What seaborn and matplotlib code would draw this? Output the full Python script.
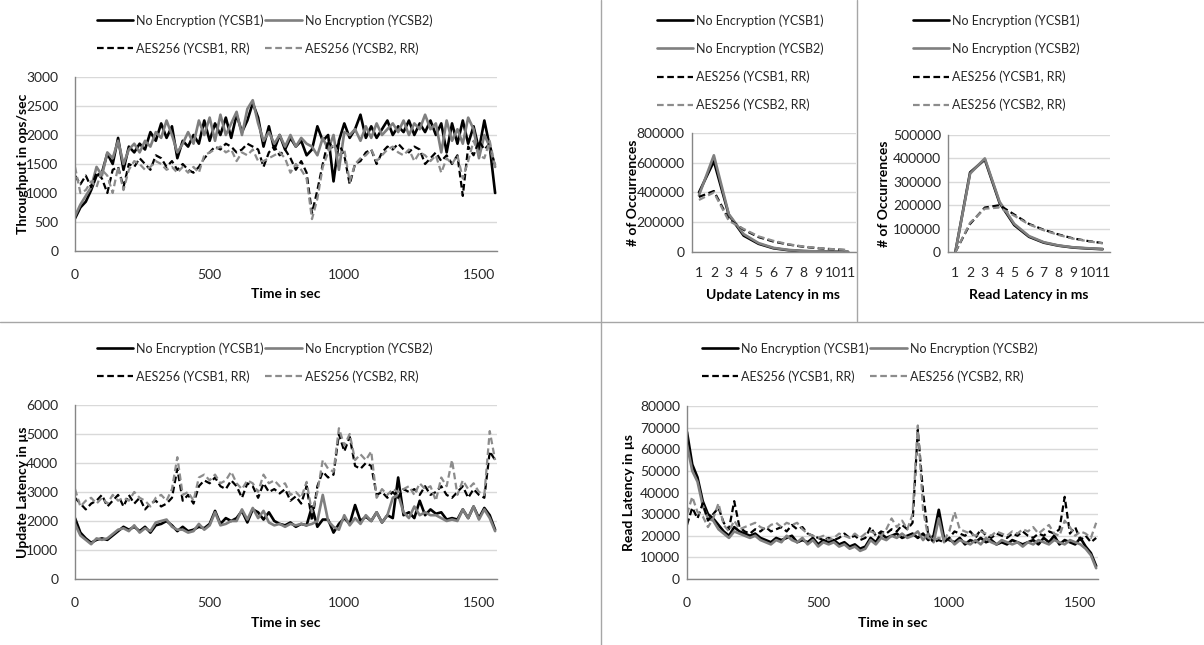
import matplotlib
matplotlib.use("Agg")
import matplotlib.pyplot as plt
import seaborn as sns
from matplotlib.lines import Line2D
from matplotlib.ticker import MultipleLocator, FixedLocator, FuncFormatter

sns.set_theme(style="white")
plt.rcParams['font.family'] = ['Lato', 'DejaVu Sans']

# ---------------- data ----------------
time = list(range(0, 1561, 20))

labels = ["No Encryption (YCSB1)", "No Encryption (YCSB2)",
          "AES256 (YCSB1, RR)", "AES256 (YCSB2, RR)"]

# throughput in ops/sec
tp_ne1 = [560, 750, 850, 1050, 1300, 1350, 1680, 1500, 1950, 1400,
          1800, 1700, 1850, 1750, 2050, 1900, 2200, 1950, 2150, 1600,
          1900, 1800, 2000, 1850, 2250, 1900, 2200, 2000, 2300, 1950,
          2350, 2050, 2250, 2550, 2300, 1800, 2150, 1750, 2000, 1750,
          1950, 1800, 1900, 1650, 1750, 2150, 1900, 2000, 1200, 1900,
          2200, 1950, 2100, 2350, 1950, 2150, 1950, 2100, 2250, 2000,
          2150, 2050, 2250, 2000, 2200, 2050, 2250, 2000, 2200, 1700,
          2200, 1850, 2250, 1850, 2150, 1750, 2250, 1800, 1000]
tp_ne2 = [600, 800, 950, 1100, 1450, 1300, 1700, 1600, 1900, 1500,
          1750, 1850, 1700, 1900, 1800, 2050, 1950, 2250, 2000, 1700,
          1850, 2050, 1850, 2250, 2000, 2300, 1900, 2350, 2000, 2200,
          2400, 2000, 2450, 2600, 2200, 1900, 2050, 1850, 2000, 1800,
          2000, 1800, 1950, 1850, 1800, 1650, 1950, 1750, 2000, 1400,
          2050, 2000, 2100, 1900, 2150, 1950, 2200, 2000, 2100, 2200,
          2050, 2250, 2000, 2200, 2100, 2350, 2100, 2200, 1700, 2250,
          1900, 2100, 1850, 2300, 2100, 1600, 2000, 1800, 1450]
tp_aes1 = [1300, 1150, 1300, 1100, 1350, 1250, 1000, 1400, 1450, 1100,
           1500, 1450, 1600, 1500, 1400, 1650, 1600, 1450, 1550, 1400,
           1500, 1400, 1350, 1450, 1600, 1700, 1800, 1750, 1850, 1800,
           1700, 1750, 1850, 1800, 1750, 1450, 1700, 1800, 1650, 1750,
           1600, 1400, 1550, 1350, 650, 1050, 1500, 1900, 1750, 1850,
           1650, 1150, 1500, 1550, 1700, 1750, 1500, 1700, 1800, 1750,
           1850, 1750, 1700, 1800, 1750, 1500, 1600, 1700, 1550, 1650,
           1500, 1650, 950, 1800, 1650, 1900, 1750, 1850, 1450]
tp_aes2 = [1450, 1000, 1050, 1200, 1100, 1400, 1300, 1000, 1450, 1050,
           1400, 1550, 1500, 1400, 1450, 1550, 1500, 1400, 1450, 1350,
           1450, 1350, 1450, 1350, 1650, 1700, 1750, 1800, 1700, 1750,
           1550, 1700, 1650, 1750, 1550, 1550, 1600, 1650, 1700, 1600,
           1350, 1500, 1400, 1250, 550, 900, 1450, 1700, 1850, 1650,
           1750, 1200, 1500, 1600, 1650, 1750, 1550, 1650, 1750, 1800,
           1700, 1650, 1750, 1550, 1700, 1650, 1550, 1650, 1350, 1600,
           1500, 1650, 1250, 1550, 1900, 1650, 1600, 1900, 1450]

# update latency in us
ul_ne1 = [2100, 1600, 1400, 1250, 1350, 1400, 1350, 1500, 1650, 1800,
          1700, 1800, 1650, 1800, 1600, 1850, 1900, 2000, 1850, 1650,
          1800, 1650, 1700, 1800, 1750, 1900, 2350, 1900, 2100, 2000,
          2100, 2350, 1950, 2400, 2300, 2050, 2300, 2000, 1900, 1850,
          1950, 1800, 1900, 1850, 2500, 1800, 2050, 2050, 1600, 1900,
          2100, 1900, 2550, 2000, 2150, 2000, 2300, 1950, 2200, 2100,
          3500, 2200, 2300, 2100, 2700, 2200, 2400, 2250, 2300, 2050,
          2100, 2050, 2400, 2100, 2500, 2100, 2450, 2200, 1700]
ul_ne2 = [1900, 1500, 1350, 1200, 1400, 1350, 1400, 1550, 1700, 1750,
          1650, 1850, 1600, 1750, 1650, 1950, 2000, 2050, 1800, 1700,
          1700, 1600, 1650, 1900, 1700, 1850, 2300, 1850, 1900, 2000,
          2000, 2400, 2050, 2450, 2100, 2350, 1950, 1850, 1900, 1800,
          1900, 1850, 1900, 1850, 1900, 2000, 2900, 2000, 1800, 1700,
          2200, 1850, 2100, 1900, 2200, 2000, 2300, 1950, 2200, 2800,
          2900, 2300, 2100, 2500, 2200, 2300, 2200, 2200, 2100, 2000,
          2050, 2000, 2400, 2100, 2500, 2050, 2400, 2100, 1650]
ul_aes1 = [2800, 2600, 2400, 2600, 2700, 2900, 2500, 2700, 2900, 2500,
           2900, 2600, 2800, 2400, 2600, 2700, 2500, 2600, 2800, 3800,
           2700, 2900, 2600, 3200, 3400, 3300, 3500, 3200, 3100, 3400,
           3200, 2800, 3300, 3200, 2800, 3300, 3000, 3100, 2950, 3100,
           2700, 2850, 2600, 3200, 2000, 3200, 3700, 3500, 3600, 5000,
           4400, 4900, 3900, 3800, 4000, 3900, 2900, 3000, 2800, 3000,
           2800, 3100, 3000, 3100, 2900, 3200, 2900, 3000, 3200, 2900,
           2800, 3000, 3200, 2800, 3100, 2900, 2800, 4400, 4100]
ul_aes2 = [3100, 2500, 2700, 2800, 2600, 2800, 2600, 2900, 2700, 2800,
           2700, 3000, 2800, 2700, 2500, 2800, 2900, 2700, 3100, 4200,
           2900, 3000, 2700, 3500, 3600, 3400, 3600, 3300, 3400, 3700,
           3300, 3100, 3400, 3300, 3000, 3600, 3300, 3400, 3200, 3300,
           2900, 3000, 2800, 3350, 2300, 3000, 4100, 3800, 3700, 5200,
           4600, 5000, 4100, 4300, 4100, 4400, 2800, 3100, 2900, 3100,
           3000, 3100, 3200, 2900, 3300, 3100, 3200, 2700, 3500, 3200,
           4100, 2900, 3400, 3100, 3300, 3000, 2900, 5100, 4100]

# read latency in us
rl_ne1 = [68000, 53000, 47000, 36000, 30000, 28000, 25000, 22000, 20000, 24000,
          22000, 21000, 20000, 21000, 19000, 18000, 17000, 19000, 18000, 19000,
          20000, 17000, 18000, 17000, 19000, 16000, 18000, 17000, 18000, 16000,
          17000, 15000, 16000, 14000, 15000, 19000, 17000, 21000, 19000, 20000,
          21000, 19000, 20000, 21000, 19000, 21000, 18000, 20000, 32000, 19000,
          18000, 17000, 19000, 16000, 18000, 17000, 19000, 17000, 18000, 16000,
          17000, 16000, 18000, 17000, 16000, 17000, 18000, 16000, 19000, 17000,
          20000, 16000, 18000, 17000, 16000, 19000, 15000, 12000, 6000]
rl_ne2 = [62000, 50000, 45000, 34000, 28000, 27000, 23000, 21000, 19000, 22000,
          21000, 20000, 19000, 20000, 18000, 17000, 16000, 18000, 17000, 20000,
          18000, 17000, 19000, 16000, 18000, 15000, 17000, 16000, 17000, 15000,
          16000, 14000, 15000, 13000, 14000, 18000, 16000, 19000, 18000, 20000,
          19000, 21000, 19000, 20000, 22000, 18000, 21000, 17000, 28000, 17000,
          19000, 16000, 18000, 17000, 16000, 18000, 16000, 19000, 17000, 16000,
          18000, 17000, 16000, 17000, 15000, 17000, 16000, 18000, 17000, 16000,
          18000, 17000, 16000, 18000, 17000, 16000, 14000, 11000, 5000]
rl_aes1 = [25000, 33000, 28000, 35000, 27000, 30000, 33000, 26000, 23000, 36000,
           24000, 22000, 21000, 23000, 22000, 24000, 22000, 23000, 24000, 22000,
           25000, 23000, 24000, 21000, 20000, 19000, 18000, 19000, 18000, 19000,
           21000, 19000, 20000, 18000, 19000, 24000, 20000, 22000, 21000, 23000,
           22000, 25000, 23000, 26000, 69000, 40000, 20000, 17000, 18000, 17000,
           19000, 22000, 21000, 20000, 22000, 19000, 23000, 20000, 19000, 21000,
           20000, 19000, 21000, 20000, 22000, 20000, 19000, 21000, 20000, 22000,
           21000, 23000, 38000, 21000, 24000, 18000, 20000, 17000, 19000]
rl_aes2 = [30000, 38000, 31000, 29000, 24000, 28000, 35000, 25000, 22000, 27000,
           23000, 24000, 25000, 26000, 24000, 23000, 25000, 26000, 24000, 26000,
           25000, 26000, 23000, 21000, 20000, 19000, 20000, 18000, 19000, 21000,
           20000, 19000, 21000, 19000, 21000, 22000, 21000, 20000, 23000, 28000,
           24000, 27000, 23000, 30000, 71000, 32000, 19000, 18000, 19000, 18000,
           22000, 31000, 23000, 22000, 21000, 20000, 22000, 21000, 20000, 22000,
           21000, 20000, 22000, 21000, 23000, 22000, 24000, 21000, 23000, 25000,
           21000, 20000, 27000, 24000, 20000, 22000, 21000, 19000, 26000]

# latency histograms (# of occurrences per ms bucket)
buckets = list(range(1, 12))
hu_ne1 = [400000, 610000, 250000, 110000, 55000, 25000, 12000, 6000, 3000, 2000, 1000]
hu_ne2 = [380000, 650000, 255000, 120000, 60000, 28000, 14000, 7000, 4000, 2000, 1000]
hu_aes1 = [370000, 410000, 220000, 150000, 100000, 70000, 50000, 35000, 25000, 18000, 12000]
hu_aes2 = [350000, 400000, 210000, 155000, 105000, 75000, 52000, 37000, 27000, 19000, 13000]
hr_ne1 = [0, 340000, 395000, 210000, 115000, 65000, 40000, 27000, 19000, 15000, 12000]
hr_ne2 = [0, 335000, 400000, 215000, 120000, 68000, 42000, 28000, 20000, 16000, 13000]
hr_aes1 = [0, 120000, 190000, 200000, 160000, 120000, 95000, 75000, 58000, 47000, 38000]
hr_aes2 = [0, 125000, 185000, 190000, 155000, 118000, 93000, 73000, 57000, 46000, 37000]

# ---------------- styles ----------------
styles = [dict(color="#000000", linewidth=1.9, linestyle="-"),
          dict(color="#7f7f7f", linewidth=1.9, linestyle="-"),
          dict(color="#000000", linewidth=1.6, linestyle=(0, (3.0, 1.6))),
          dict(color="#8c8c8c", linewidth=1.6, linestyle=(0, (3.0, 1.6)))]

W, H = 1204, 645
fig = plt.figure(figsize=(W / 100, H / 100), dpi=100)
fig.patch.set_facecolor("white")


def box(l, t, r, b):
    return [l / W, 1 - b / H, (r - l) / W, (b - t) / H]


def draw(ax, x, series):
    for vals, st in zip(series, styles):
        sns.lineplot(x=x, y=vals, ax=ax, legend=False, **st)


def style_axis(ax, ylabel, xlabel, ypad):
    for s in ["top", "right"]:
        ax.spines[s].set_visible(False)
    for s in ["left", "bottom"]:
        ax.spines[s].set_color("#868686")
        ax.spines[s].set_linewidth(1.0)
    ax.grid(axis="y", color="#d9d9d9", linewidth=1.0)
    ax.grid(axis="x", visible=False)
    ax.set_axisbelow(True)
    ax.tick_params(axis="y", which="major", direction="out", length=4, width=1,
                   color="#868686", labelsize=10, labelcolor="#262626", pad=ypad)
    ax.set_ylabel(ylabel, fontsize=10, fontweight="bold", color="#000000")
    ax.set_xlabel(xlabel, fontsize=10, fontweight="bold", color="#000000")


def time_axis(ax):
    ax.set_xlim(0, 1567)
    ax.xaxis.set_major_locator(MultipleLocator(100))
    ax.xaxis.set_major_formatter(FuncFormatter(lambda v, p: f"{int(v)}" if int(v) % 500 == 0 else ""))
    ax.tick_params(axis="x", which="major", direction="out", length=5, width=1,
                   color="#868686", labelsize=10, labelcolor="#262626", pad=8)


def cat_axis(ax):
    ax.set_xlim(0.5, 11.5)
    ax.xaxis.set_major_locator(FixedLocator(buckets))
    ax.xaxis.set_minor_locator(FixedLocator([b + 0.5 for b in range(0, 12)]))
    ax.tick_params(axis="x", which="major", length=0, labelsize=10, labelcolor="#262626", pad=11)
    ax.tick_params(axis="x", which="minor", direction="out", length=5, width=1, color="#868686")


def add_legend(ax, x0, y0, ncol):
    h = [Line2D([0], [0], **st) for st in styles]
    if ncol == 2:
        order = [0, 2, 1, 3]
    else:
        order = [0, 1, 2, 3]
    leg = ax.legend([h[i] for i in order], [labels[i] for i in order],
                    loc="upper left", bbox_to_anchor=(x0 / W, 1 - y0 / H),
                    bbox_transform=fig.transFigure, ncol=ncol, frameon=False,
                    borderpad=0, borderaxespad=0, handlelength=2.9, handletextpad=0.25,
                    columnspacing=0.1, labelspacing=1.25, fontsize=9)
    for t in leg.get_texts():
        t.set_color("#262626")


# throughput over time
ax1 = fig.add_axes(box(75, 77, 497, 251))
draw(ax1, time, [tp_ne1, tp_ne2, tp_aes1, tp_aes2])
ax1.set_ylim(0, 3000)
ax1.yaxis.set_major_locator(MultipleLocator(500))
time_axis(ax1)
style_axis(ax1, "Throughput in ops/sec", "Time in sec", 8)
ax1.yaxis.set_label_coords((29 - 75) / 422, 0.5)
ax1.xaxis.set_label_coords(0.5, (251 - 288) / 174)
add_legend(ax1, 97, 14, 2)

# update latency histogram
ax2 = fig.add_axes(box(691.5, 133, 855.5, 252))
draw(ax2, buckets, [hu_ne1, hu_ne2, hu_aes1, hu_aes2])
ax2.set_ylim(0, 800000)
ax2.yaxis.set_major_locator(MultipleLocator(200000))
cat_axis(ax2)
style_axis(ax2, "# of Occurrences", "Update Latency in ms", 1)
ax2.yaxis.set_label_coords((639 - 691.5) / 164, 0.5)
ax2.xaxis.set_label_coords(0.5, (252 - 289) / 119)
add_legend(ax2, 657, 14, 1)

# read latency histogram
ax3 = fig.add_axes(box(948, 135, 1110, 252))
draw(ax3, buckets, [hr_ne1, hr_ne2, hr_aes1, hr_aes2])
ax3.set_ylim(0, 500000)
ax3.yaxis.set_major_locator(MultipleLocator(100000))
cat_axis(ax3)
style_axis(ax3, "# of Occurrences", "Read Latency in ms", 1)
ax3.yaxis.set_label_coords((890 - 948) / 162, 0.5)
ax3.xaxis.set_label_coords(0.5, (252 - 289) / 117)
add_legend(ax3, 913, 14, 1)

# update latency over time
ax4 = fig.add_axes(box(75, 405, 497, 579))
draw(ax4, time, [ul_ne1, ul_ne2, ul_aes1, ul_aes2])
ax4.set_ylim(0, 6000)
ax4.yaxis.set_major_locator(MultipleLocator(1000))
time_axis(ax4)
style_axis(ax4, "Update Latency in µs", "Time in sec", 8)
ax4.yaxis.set_label_coords((29 - 75) / 422, 0.5)
ax4.xaxis.set_label_coords(0.5, (579 - 617) / 174)
add_legend(ax4, 97, 342, 2)

# read latency over time
ax5 = fig.add_axes(box(687, 406, 1098, 579))
draw(ax5, time, [rl_ne1, rl_ne2, rl_aes1, rl_aes2])
ax5.set_ylim(0, 80000)
ax5.yaxis.set_major_locator(MultipleLocator(10000))
time_axis(ax5)
style_axis(ax5, "Read Latency in µs", "Time in sec", 1)
ax5.yaxis.set_label_coords((635 - 687) / 411, 0.5)
ax5.xaxis.set_label_coords(0.5, (579 - 617) / 173)
add_legend(ax5, 702, 342, 2)

# panel separators
sep = dict(transform=fig.transFigure, color="#a6a6a6", linewidth=1.0)
fig.add_artist(Line2D([0, 1], [1 - 322 / H, 1 - 322 / H], **sep))
fig.add_artist(Line2D([601 / W, 601 / W], [0, 1], **sep))
fig.add_artist(Line2D([857 / W, 857 / W], [1 - 321 / H, 1], **sep))

fig.savefig("out.png", dpi=100, facecolor="white")
